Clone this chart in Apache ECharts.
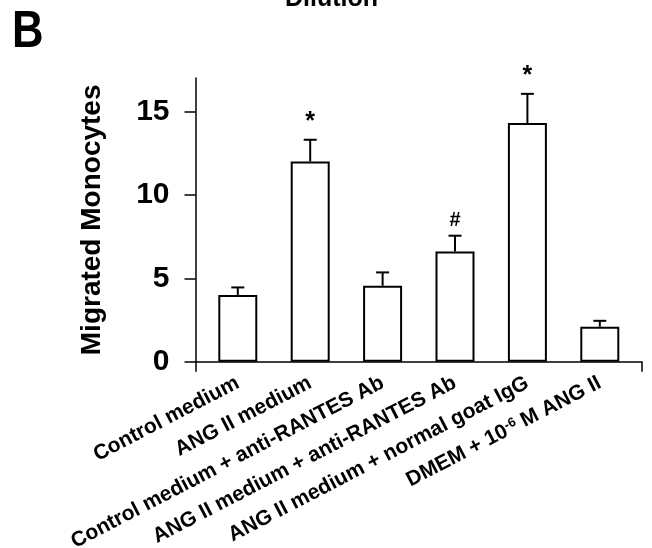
<!DOCTYPE html>
<html>
<head>
<meta charset="utf-8">
<script src="https://cdn.jsdelivr.net/npm/echarts@6/dist/echarts.min.js"></script>
<style>
html,body{margin:0;padding:0;background:#fff;}
#chart{width:652px;height:548px;}
</style>
</head>
<body>
<div id="chart"></div>
<script>
// ---- data ----
var categories = [
  'Control medium',
  'ANG II medium',
  'Control medium + anti-RANTES Ab',
  'ANG II medium + anti-RANTES Ab',
  'ANG II medium + normal goat IgG',
  'DMEM + 10{sup|-6} M ANG II'
];
var means = [4.0, 12.0, 4.55, 6.6, 14.3, 2.1];
var errors = [0.45, 1.3, 0.8, 0.95, 1.75, 0.35];
var marks = ['', '*', '', '#', '*', ''];
var yTicks = [0, 5, 10, 15];
var yTitle = 'Migrated Monocytes';
var panelLetter = 'B';
var topTitle = 'Dilution';

var FONT = '"Liberation Sans", Arial, Helvetica, sans-serif';
var chart = echarts.init(document.getElementById('chart'), null, {renderer: 'canvas'});

var errData = means.map(function (m, i) { return [i, m, errors[i]]; });

var option = {
  backgroundColor: '#fff',
  animation: false,
  title: [
    {text: topTitle, left: 285, top: -13, padding: 0,
     textStyle: {fontFamily: FONT, fontSize: 25, fontWeight: 'bold', color: '#000'}}
  ],
  graphic: [
    {type: 'text', x: 12, y: 7, scaleX: 0.84,
     style: {text: panelLetter, fill: '#000', fontFamily: FONT, fontSize: 52, fontWeight: 'bold',
             align: 'left', verticalAlign: 'top'}}
  ],
  grid: [
    {left: 201.6, right: 16, top: 78, bottom: 186.3, outerBoundsMode: 'none', containLabel: false},
    {left: 195.5, right: 10, top: 78, bottom: 186.3, outerBoundsMode: 'none', containLabel: false}
  ],
  xAxis: [
    {
      type: 'category', gridIndex: 0, data: categories,
      axisLine: {show: false}, axisTick: {show: false},
      axisLabel: {
        rotate: 27.5, interval: 0, margin: 20,
        fontFamily: FONT, fontSize: 21, fontWeight: 'bold', color: '#000',
        rich: {
          sup: {fontFamily: FONT, fontSize: 13, fontWeight: 'bold', color: '#000', verticalAlign: 'top', lineHeight: 13}
        }
      }
    },
    {
      type: 'value', gridIndex: 1, min: 0, max: 1,
      splitLine: {show: false},
      axisLine: {show: true, lineStyle: {color: '#000', width: 1.5}},
      axisTick: {show: true, inside: false, length: 10, customValues: [0, 1], lineStyle: {color: '#000', width: 1.5}},
      axisLabel: {show: false}
    }
  ],
  yAxis: [
    {type: 'value', gridIndex: 0, min: 0, max: 17, show: false, splitLine: {show: false}},
    {
      type: 'value', gridIndex: 1, min: 0, max: 17,
      name: yTitle, nameLocation: 'middle', nameGap: 89,
      nameTextStyle: {fontFamily: FONT, fontSize: 28, fontWeight: 'bold', color: '#000'},
      splitLine: {show: false},
      axisLine: {show: true, lineStyle: {color: '#000', width: 1.5}},
      axisTick: {show: true, inside: false, length: 11, customValues: yTicks, lineStyle: {color: '#000', width: 1.5}},
      axisLabel: {customValues: yTicks, margin: 26, fontFamily: FONT, fontSize: 30, fontWeight: 'bold', color: '#000'}
    }
  ],
  series: [
    {
      type: 'bar', xAxisIndex: 0, yAxisIndex: 0,
      data: means, barWidth: 39,
      itemStyle: {color: '#fff', borderColor: '#000', borderWidth: 2}
    },
    {
      type: 'custom', xAxisIndex: 0, yAxisIndex: 0,
      data: errData, z: 5,
      renderItem: function (params, api) {
        var i = api.value(0), m = api.value(1), e = api.value(2);
        var base = api.coord([i, m]);
        var top = api.coord([i, m + e]);
        var hw = 6.5;
        var children = [
          {type: 'line', shape: {x1: base[0], y1: base[1], x2: top[0], y2: top[1]}, style: {stroke: '#000', lineWidth: 2}},
          {type: 'line', shape: {x1: top[0] - hw, y1: top[1], x2: top[0] + hw, y2: top[1]}, style: {stroke: '#000', lineWidth: 2}}
        ];
        var mk = marks[params.dataIndex];
        if (mk) {
          children.push({
            type: 'text', x: top[0], y: top[1] - 5,
            style: {text: mk, fill: '#000', fontFamily: FONT, fontWeight: 'bold',
                    fontSize: mk === '*' ? 25 : 20, align: 'center', verticalAlign: 'bottom'}
          });
        }
        return {type: 'group', children: children};
      }
    }
  ]
};
chart.setOption(option);
</script>
</body>
</html>
